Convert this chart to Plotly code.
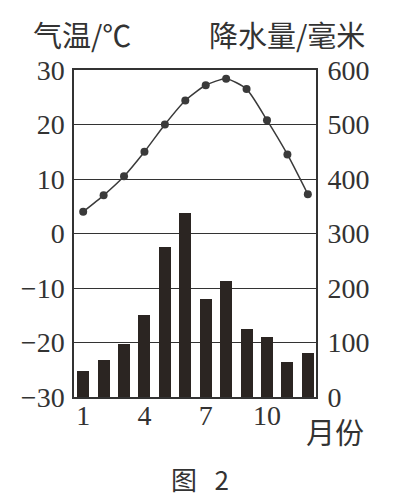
import plotly.graph_objects as go

months = list(range(1, 13))
temperature = [4, 7, 10.5, 15, 20, 24.4, 27.2, 28.4, 26.5, 20.8, 14.5, 7.2]
precipitation = [47, 68, 98, 150, 275, 337, 179, 213, 125, 110, 65, 80]
x_ticks = [1, 4, 7, 10]
temp_ticks = [-30, -20, -10, 0, 10, 20, 30]
prec_ticks = [0, 100, 200, 300, 400, 500, 600]

W, H = 397, 498
L, R, T, B = 74, 316, 70, 397
ink = "#333333"
FONT = "Liberation Serif, Noto Sans CJK SC, serif"
CJK = "Noto Sans CJK SC, sans-serif"

def px(x):
    return (x - L) / (R - L)

def py(y):
    return (B - y) / (B - T)

fig = go.Figure()
fig.add_trace(go.Bar(x=months, y=precipitation, yaxis="y2", width=0.59,
                     marker=dict(color="#2b2522", line=dict(width=0)),
                     showlegend=False))
fig.add_trace(go.Scatter(x=months, y=temperature, yaxis="y", mode="lines+markers",
                         line=dict(color="#3a3a3a", width=1.5, shape="spline", smoothing=0.6),
                         marker=dict(color="#3a3a3a", size=8),
                         showlegend=False))

fig.update_layout(
    width=W, height=H,
    margin=dict(l=L, r=W - R, t=T, b=H - B),
    paper_bgcolor="white", plot_bgcolor="white",
    font=dict(family=FONT, size=28, color=ink),
    xaxis=dict(range=[0.55, 12.4], tickvals=x_ticks, ticktext=[str(v) for v in x_ticks],
               showgrid=False, zeroline=False, showline=True, mirror=True,
               linecolor=ink, linewidth=1.5, ticks="", ticklen=0,
               ticklabelstandoff=-7),
    yaxis=dict(range=[-30, 30], tickvals=temp_ticks,
               ticktext=[("\u2212" + str(-v)) if v < 0 else str(v) for v in temp_ticks],
               showgrid=True, gridcolor=ink, gridwidth=1.2, zeroline=False,
               showline=True, mirror=True, linecolor=ink, linewidth=1.5,
               ticks="outside", ticklen=2, tickcolor="rgba(0,0,0,0)"),
    yaxis2=dict(range=[0, 600], tickvals=prec_ticks, overlaying="y", side="right",
                showgrid=False, zeroline=False, showline=False,
                ticks="outside", ticklen=5, tickcolor="rgba(0,0,0,0)"),
    bargap=0,
)

ann = [
    ("气温/℃", px(82), py(34), 29),
    ("降水量/毫米", px(287), py(34), 29),
    ("月份", px(335), py(431), 29),
    ("图\u00a0\u00a0\u00a02", px(200), py(478), 26),
]
for text, x, y, sz in ann:
    fig.add_annotation(text=text, x=x, y=y, xref="paper", yref="paper",
                       xanchor="center", yanchor="middle", showarrow=False,
                       font=dict(family=CJK, size=sz, color=ink))

fig.write_html("out.html")
